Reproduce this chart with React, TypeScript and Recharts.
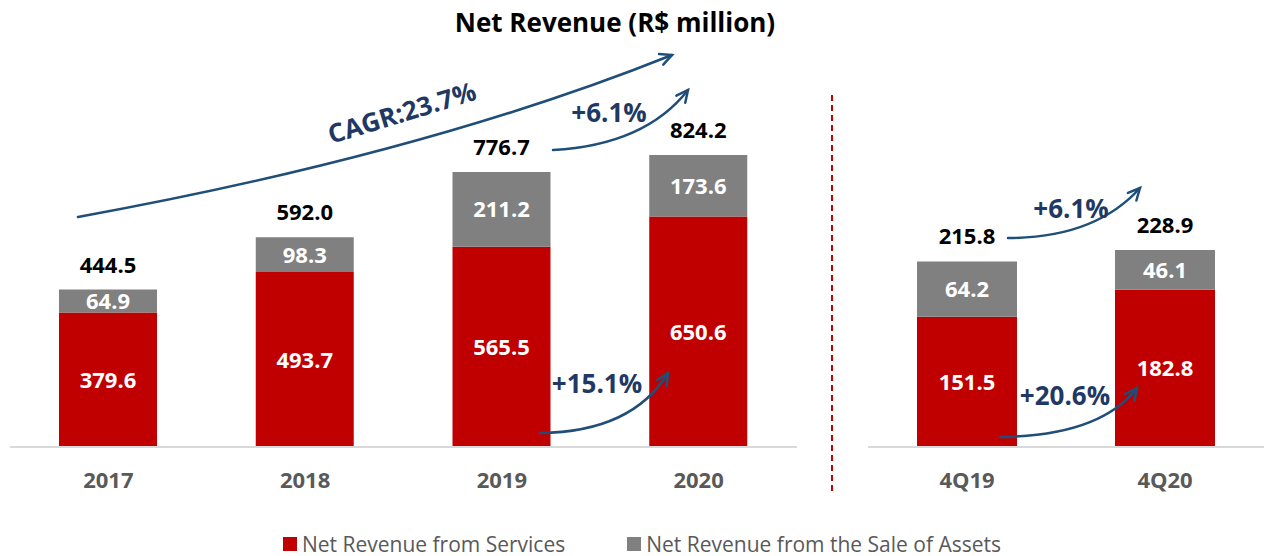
import React from 'react';
import { BarChart, Bar, XAxis, YAxis, LabelList } from 'recharts';

// Valores anuais (R$ milhões)
const years = ['2017', '2018', '2019', '2020'];
const servicesYear = [379.6, 493.7, 565.5, 650.6];
const assetsYear = [64.9, 98.3, 211.2, 173.6];
const totalsYear = [444.5, 592.0, 776.7, 824.2];

// Valores trimestrais
const quarters = ['4Q19', '4Q20'];
const servicesQ = [151.5, 182.8];
const assetsQ = [64.2, 46.1];
const totalsQ = [215.8, 228.9];

const seriesNames = ['Net Revenue from Services', 'Net Revenue from the Sale of Assets'];

const RED = '#C00000';
const GRAY = '#808080';
const NAVY = '#1F3864';
const ARROW = '#1F4E79';
const FONT = "'Open Sans', sans-serif";

const yearData = years.map((y, i) => ({ name: y, services: servicesYear[i], assets: assetsYear[i], total: totalsYear[i] }));
const quarterData = quarters.map((q, i) => ({ name: q, services: servicesQ[i], assets: assetsQ[i], total: totalsQ[i] }));

const makeTotalLabel = (totals: number[]) => (props: any) => {
  const { x, y, width, index } = props;
  return (
    <text x={x + width / 2} y={y - 17} textAnchor="middle" fill="#000" fontSize={22} fontWeight="bold" fontFamily={FONT}>
      {totals[index].toFixed(1)}
    </text>
  );
};

const segLabel = (props: any) => {
  const { x, y, width, height, value } = props;
  return (
    <text x={x + width / 2} y={y + height / 2 + 8} textAnchor="middle" fill="#fff" fontSize={22} fontWeight="bold" fontFamily={FONT}>
      {Number(value).toFixed(1)}
    </text>
  );
};

// seta curva (anotação)
const CurvedArrow = ({ x1, y1, cx, cy, x2, y2 }: any) => {
  const ang = Math.atan2(y2 - cy, x2 - cx);
  const len = 13;
  const a1 = ang + Math.PI - 0.45;
  const a2 = ang + Math.PI + 0.45;
  return (
    <g stroke={ARROW} fill="none" strokeWidth={2.5} strokeLinecap="round">
      <path d={`M${x1},${y1} Q${cx},${cy} ${x2},${y2}`} />
      <path d={`M${x2 + len * Math.cos(a1)},${y2 + len * Math.sin(a1)} L${x2},${y2} L${x2 + len * Math.cos(a2)},${y2 + len * Math.sin(a2)}`} />
    </g>
  );
};

const axisTick = { fill: '#595959', fontSize: 22, fontWeight: 'bold', fontFamily: FONT };
const noteStyle = { fontSize: 26, fontWeight: 'bold' as const, fill: NAVY, fontFamily: FONT };

const App: React.FC = () => {
  return (
    <div style={{ position: 'absolute', left: 0, top: 0, width: 1264, height: 556, background: '#fff', fontFamily: FONT }}>
      {/* anual */}
      <div style={{ position: 'absolute', left: 0, top: 0 }}>
        <BarChart width={810} height={556} data={yearData} margin={{ top: 40, right: 13, bottom: 59, left: 10 }}>
          <XAxis dataKey="name" axisLine={{ stroke: '#D9D9D9', strokeWidth: 2 }} tickLine={false} tick={axisTick} tickMargin={19} height={50} />
          <YAxis hide domain={[0, 1149]} />
          <Bar dataKey="services" stackId="a" fill={RED} barSize={98} isAnimationActive={false}>
            <LabelList dataKey="services" content={segLabel} />
          </Bar>
          <Bar dataKey="assets" stackId="a" fill={GRAY} barSize={98} isAnimationActive={false}>
            <LabelList dataKey="assets" content={segLabel} />
            <LabelList dataKey="total" content={makeTotalLabel(totalsYear)} />
          </Bar>
        </BarChart>
      </div>

      {/* trimestral */}
      <div style={{ position: 'absolute', left: 860, top: 0 }}>
        <BarChart width={404} height={556} data={quarterData} margin={{ top: 40, right: 0, bottom: 59, left: 8 }}>
          <XAxis dataKey="name" axisLine={{ stroke: '#D9D9D9', strokeWidth: 2 }} tickLine={false} tick={axisTick} tickMargin={19} height={50} />
          <YAxis hide domain={[0, 473]} />
          <Bar dataKey="services" stackId="a" fill={RED} barSize={100} isAnimationActive={false}>
            <LabelList dataKey="services" content={segLabel} />
          </Bar>
          <Bar dataKey="assets" stackId="a" fill={GRAY} barSize={100} isAnimationActive={false}>
            <LabelList dataKey="assets" content={segLabel} />
            <LabelList dataKey="total" content={makeTotalLabel(totalsQ)} />
          </Bar>
        </BarChart>
      </div>

      {/* anotações */}
      <svg width={1264} height={556} style={{ position: 'absolute', left: 0, top: 0, pointerEvents: 'none' }}>
        <text x={615} y={32} textAnchor="middle" fontSize={26} fontWeight="bold" fill="#000" fontFamily={FONT}>
          Net Revenue (R$ million)
        </text>
        <line x1={832} y1={95} x2={832} y2={492} stroke={RED} strokeWidth={2} strokeDasharray="6 4" />

        <CurvedArrow x1={78} y1={217} cx={425} cy={154} x2={672} y2={55} />
        <text x={402} y={122} textAnchor="middle" {...noteStyle} transform="rotate(-17 402 113)">
          CAGR:23.7%
        </text>

        <CurvedArrow x1={553} y1={150} cx={645} cy={145} x2={688} y2={90} />
        <text x={609} y={122} textAnchor="middle" {...noteStyle}>+6.1%</text>

        <CurvedArrow x1={540} y1={433} cx={632} cy={432} x2={668} y2={373} />
        <text x={597} y={393} textAnchor="middle" {...noteStyle}>+15.1%</text>

        <CurvedArrow x1={1008} y1={238} cx={1095} cy={238} x2={1140} y2={188} />
        <text x={1071} y={218} textAnchor="middle" {...noteStyle}>+6.1%</text>

        <CurvedArrow x1={1000} y1={437} cx={1100} cy={436} x2={1137} y2={388} />
        <text x={1065} y={405} textAnchor="middle" {...noteStyle}>+20.6%</text>
      </svg>

      {/* legenda */}
      <div style={{ position: 'absolute', top: 533, left: 0, width: 1264, height: 22, display: 'flex', justifyContent: 'center', gap: 62, paddingLeft: 20, boxSizing: 'border-box' }}>
        {seriesNames.map((n, i) => (
          <div key={n} style={{ display: 'flex', alignItems: 'center', color: '#595959', fontSize: 21, lineHeight: '22px', fontFamily: FONT }}>
            <span style={{ display: 'inline-block', width: 14, height: 14, background: i === 0 ? RED : GRAY, marginRight: 5 }} />
            {n}
          </div>
        ))}
      </div>
    </div>
  );
};

export default App;
